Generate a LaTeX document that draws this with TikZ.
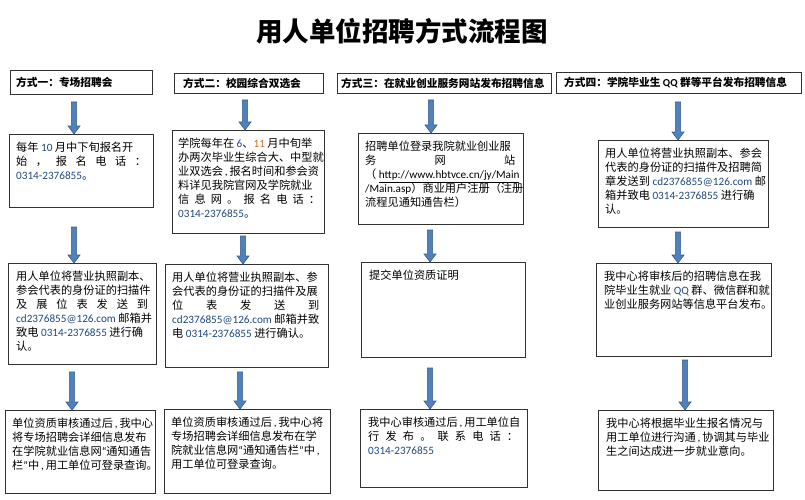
\documentclass[tikz,border=0pt]{standalone}
\usepackage{fontspec}
\setmainfont{Noto Sans CJK SC}
\newfontfamily\latf{Carlito}
\usetikzlibrary{calc}
\definecolor{numblue}{RGB}{31,73,125}
\definecolor{numorange}{RGB}{200,110,40}
\definecolor{arrfill}{RGB}{79,129,189}
\definecolor{arrline}{RGB}{56,93,138}
\definecolor{boxline}{RGB}{50,50,50}
\newcommand\numc[1]{{\latf\color{numblue}#1}}
\newcommand\latn[1]{{\latf #1}}
\newcommand\hcm{{\latf\,,\,}}
\newcommand\lqm{{\latf “}}
\newcommand\rqm{{\latf ”}}
\newcommand\fatarrow[2]{%
  \filldraw[fill=arrfill, draw=arrline, line width=0.6pt] let \p1=(#1), \p2=(#2) in
  (\x1-2.6pt,\y1) -- (\x1+2.6pt,\y1) -- (\x1+2.6pt,\y2+8pt) -- (\x1+6pt,\y2+8pt) --
  (\x1,\y2) -- (\x1-6pt,\y2+8pt) -- (\x1-2.6pt,\y2+8pt) -- cycle;}
\tikzset{
  box/.style={draw=boxline, line width=0.8pt, inner sep=0pt, anchor=north west, fill=white},
  hdr/.style={draw=boxline, line width=0.8pt, inner sep=0pt, anchor=north west, fill=white},
  txt/.style={inner sep=0pt, anchor=north west, align=left, font=\fontsize{11.2}{14}\selectfont},
  htxt/.style={inner sep=0pt, anchor=west, font=\bfseries\fontsize{10.7}{12}\selectfont},
}
\begin{document}
\begin{tikzpicture}[x=1pt,y=-1pt]
\useasboundingbox (0,0) rectangle (805,500);
\fill[white] (0,0) rectangle (805,500);
\node[font=\bfseries\fontsize{26.5}{30}\selectfont] (title) at (402,31) {用人单位招聘方式流程图};

% ---------- headers ----------
\node[hdr, minimum width=142pt, minimum height=24pt] (h1) at (10,70) {};
\node[htxt] (h1t) at ([xshift=6pt]h1.west) {方式一：专场招聘会};
\node[hdr, minimum width=149pt, minimum height=20pt] (h2) at (174,73) {};
\node[htxt] (h2t) at ([xshift=9pt]h2.west) {方式二：校园综合双选会};
\node[hdr, minimum width=214pt, minimum height=20pt] (h3) at (337,73) {};
\node[htxt] (h3t) at ([xshift=4pt]h3.west) {方式三：在就业创业服务网站发布招聘信息};
\node[hdr, minimum width=245pt, minimum height=21pt] (h4) at (556,72) {};
\node[htxt] (h4t) at ([xshift=8pt]h4.west) {方式四：学院毕业生 {\latf QQ} 群等平台发布招聘信息};

% ---------- column 1 ----------
\node[box, minimum width=144pt, minimum height=73pt] (c1b1) at (9,134) {};
\node[txt] (c1t1) at ([xshift=7pt,yshift=-8pt]c1b1.north west) {%
每年 \numc{10} 月中下旬报名开\\
\makebox[130pt]{始\hfill ，\hfill 报\hfill 名\hfill 电\hfill 话\hfill ：}\\
\numc{0314-2376855}。};
\node[box, minimum width=148pt, minimum height=101pt] (c1b2) at (8,263) {};
\node[txt] (c1t2) at ([xshift=8pt,yshift=-8pt]c1b2.north west) {%
用人单位将营业执照副本、\\
参会代表的身份证的扫描件\\
\makebox[132pt]{及\hfill 展\hfill 位\hfill 表\hfill 发\hfill 送\hfill 到}\\
\numc{cd2376855@126.com} 邮箱并\\
致电 \numc{0314-2376855} 进行确\\
认。};
\node[box, minimum width=150pt, minimum height=83pt] (c1b3) at (5,410) {};
\node[txt] (c1t3) at ([xshift=7pt,yshift=-8pt]c1b3.north west) {%
单位资质审核通过后\hcm 我中心\\
将专场招聘会详细信息发布\\
在学院就业信息网\lqm 通知通告\\
栏\rqm 中\hcm 用工单位可登录查询。};

% ---------- column 2 ----------
\node[box, minimum width=152pt, minimum height=103pt] (c2b1) at (172,130) {};
\node[txt] (c2t1) at ([xshift=6pt,yshift=-8pt]c2b1.north west) {%
学院每年在 {\latf\color{numblue}6}、{\latf\color{numorange}11} 月中旬举\\
办两次毕业生综合大、中型就\\
业双选会\hcm 报名时间和参会资\\
料详见我院官网及学院就业\\
\makebox[142pt]{信\hfill 息\hfill 网\hfill 。\hfill 报\hfill 名\hfill 电\hfill 话\hfill ：}\\
\numc{0314-2376855}。};
\node[box, minimum width=163pt, minimum height=103pt] (c2b2) at (165,264) {};
\node[txt] (c2t2) at ([xshift=7pt,yshift=-8pt]c2b2.north west) {%
用人单位将营业执照副本、参\\
会代表的身份证的扫描件及展\\
\makebox[147pt]{位\hfill 表\hfill 发\hfill 送\hfill 到}\\
\numc{cd2376855@126.com} 邮箱并致\\
电 \numc{0314-2376855} 进行确认。};
\node[box, minimum width=166pt, minimum height=84pt] (c2b3) at (164,409) {};
\node[txt] (c2t3) at ([xshift=7pt,yshift=-8pt]c2b3.north west) {%
单位资质审核通过后\hcm 我中心将\\
专场招聘会详细信息发布在学\\
院就业信息网\lqm 通知通告栏\rqm 中\hcm\\
用工单位可登录查询。};

% ---------- column 3 ----------
\node[box, minimum width=165pt, minimum height=91pt] (c3b1) at (358,133) {};
\node[txt] (c3t1) at ([xshift=7pt,yshift=-8pt]c3b1.north west) {%
招聘单位登录我院就业创业服\\
\makebox[150pt]{务\hfill 网\hfill 站}\\
（ {\latf\underline{http://www.hbtvce.cn/jy/Main}}\\
\latn{/Main.asp}）商业用户注册（注册\\
流程见通知通告栏）};
\node[box, minimum width=164pt, minimum height=95pt] (c3b2) at (361,262) {};
\node[txt] (c3t2) at ([xshift=8pt,yshift=-8pt]c3b2.north west) {提交单位资质证明};
\node[box, minimum width=167pt, minimum height=78pt] (c3b3) at (360,409) {};
\node[txt] (c3t3) at ([xshift=8pt,yshift=-8pt]c3b3.north west) {%
我中心审核通过后\hcm 用工单位自\\
\makebox[150pt]{行\hfill 发\hfill 布\hfill 。\hfill 联\hfill 系\hfill 电\hfill 话\hfill ：}\\
\numc{0314-2376855}};

% ---------- column 4 ----------
\node[box, minimum width=170pt, minimum height=87pt] (c4b1) at (598,140) {};
\node[txt] (c4t1) at ([xshift=7pt,yshift=-8pt]c4b1.north west) {%
用人单位将营业执照副本、参会\\
代表的身份证的扫描件及招聘简\\
章发送到 \numc{cd2376855@126.com} 邮\\
箱并致电 \numc{0314-2376855} 进行确\\
认。};
\node[box, minimum width=175pt, minimum height=93pt] (c4b2) at (596,263) {};
\node[txt] (c4t2) at ([xshift=8pt,yshift=-8pt]c4b2.north west) {%
我中心将审核后的招聘信息在我\\
院毕业生就业 \numc{QQ} 群、微信群和就\\
业创业服务网站等信息平台发布。};
\node[box, minimum width=175pt, minimum height=80pt] (c4b3) at (598,410) {};
\node[txt] (c4t3) at ([xshift=8pt,yshift=-8pt]c4b3.north west) {%
我中心将根据毕业生报名情况与\\
用工单位进行沟通\hcm 协调其与毕业\\
生之间达成进一步就业意向。};

% ---------- arrows ----------
\coordinate (a11) at (74,102);
\coordinate (a12) at (74,227);
\coordinate (a13) at (72,372);
\coordinate (a21) at (245,100);
\coordinate (a22) at (243,236);
\coordinate (a23) at (240,372);
\coordinate (a31) at (431,100);
\coordinate (a32) at (430,230);
\coordinate (a33) at (430,368);
\coordinate (a41) at (678,102);
\coordinate (a42) at (678,232);
\coordinate (a43) at (685,360);
\fatarrow{a11}{a11 |- c1b1.north}
\fatarrow{a12}{a12 |- c1b2.north}
\fatarrow{a13}{a13 |- c1b3.north}
\fatarrow{a21}{a21 |- c2b1.north}
\fatarrow{a22}{a22 |- c2b2.north}
\fatarrow{a23}{a23 |- c2b3.north}
\fatarrow{a31}{a31 |- c3b1.north}
\fatarrow{a32}{a32 |- c3b2.north}
\fatarrow{a33}{a33 |- c3b3.north}
\fatarrow{a41}{a41 |- c4b1.north}
\fatarrow{a42}{a42 |- c4b2.north}
\fatarrow{a43}{a43 |- c4b3.north}
\end{tikzpicture}
\end{document}
